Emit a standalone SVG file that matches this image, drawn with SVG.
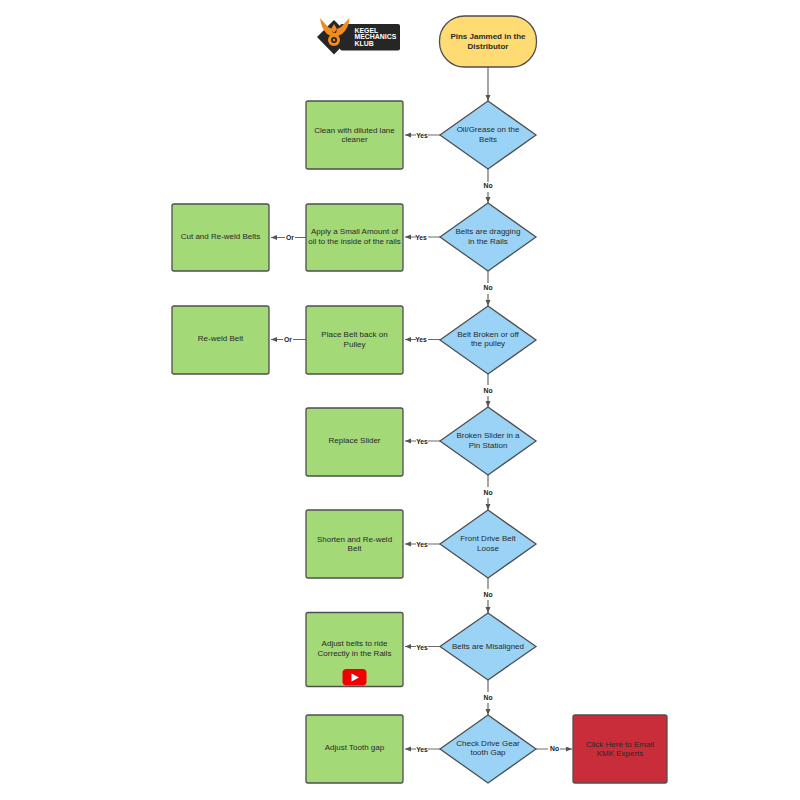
<svg xmlns="http://www.w3.org/2000/svg" width="800" height="800" viewBox="0 0 800 800">
<style>
text{font-family:"Liberation Sans",Arial,sans-serif;font-size:8px;fill:#2a2a2a;text-anchor:middle}
.n{stroke:#4f4f4f;stroke-width:1.3}
.g{fill:#a3d977}.b{fill:#9ad3f5}.r{fill:#c92d39}.y{fill:#ffdc73}
.c{fill:none;stroke:#6a6a6a;stroke-width:1.2;marker-end:url(#a)}
.l{fill:none;stroke:#6a6a6a;stroke-width:1.2}
.lb{font-size:6.800px;fill:#222;font-weight:bold}
.bd{font-weight:bold}
.lg{font-size:6.900px;font-weight:bold;fill:#fff;text-anchor:start}
</style>
<defs>
<marker id="a" markerWidth="8" markerHeight="8" refX="6" refY="2.500" orient="auto" markerUnits="userSpaceOnUse"><path d="M0 0L6 2.500L0 5Z" fill="#555"/></marker>
</defs>
<rect width="800" height="800" fill="#fff"/>
<g id="connectors">
<path class="c" d="M488 67V101"/>
<path class="c" d="M440 135H405"/>
<path class="l" d="M488 169V182"/><path class="c" d="M488 192V203"/>
<path class="c" d="M440 237H405"/>
<path class="c" d="M306 237.500H271"/>
<path class="l" d="M488 271V283"/><path class="c" d="M488 294V306"/>
<path class="c" d="M440 339.500H405"/>
<path class="c" d="M306 339.500H271"/>
<path class="l" d="M488 374V385"/><path class="c" d="M488 396V407"/>
<path class="c" d="M440 441H405"/>
<path class="l" d="M488 475V487"/><path class="c" d="M488 498V510"/>
<path class="c" d="M440 544H405"/>
<path class="l" d="M488 578V589"/><path class="c" d="M488 600V613"/>
<path class="c" d="M440 646.500H405"/>
<path class="l" d="M488 680V692"/><path class="c" d="M488 703V715"/>
<path class="c" d="M440 749H405"/>
<path class="c" d="M536 749H572"/>
<g>
<rect x="416" y="131" width="12" height="8" fill="#fff"/><text class="lb" x="422" y="137.500">Yes</text>
<rect x="416" y="233" width="12" height="8" fill="#fff"/><text class="lb" x="421" y="239.500">Yes</text>
<rect x="285" y="234" width="10" height="8" fill="#fff"/><text class="lb" x="290" y="240">Or</text>
<rect x="416" y="335" width="12" height="8" fill="#fff"/><text class="lb" x="421" y="341.500">Yes</text>
<rect x="283" y="335" width="10" height="8" fill="#fff"/><text class="lb" x="288" y="341.500">Or</text>
<rect x="416" y="437" width="12" height="8" fill="#fff"/><text class="lb" x="422" y="443.500">Yes</text>
<rect x="416" y="540" width="12" height="8" fill="#fff"/><text class="lb" x="422" y="546.500">Yes</text>
<rect x="416" y="643" width="12" height="8" fill="#fff"/><text class="lb" x="422" y="649.500">Yes</text>
<rect x="416" y="745" width="12" height="8" fill="#fff"/><text class="lb" x="422" y="751.500">Yes</text>
<rect x="548" y="745" width="12" height="8" fill="#fff"/><text class="lb" x="554.500" y="751">No</text>
<text class="lb" x="488" y="188">No</text>
<text class="lb" x="488" y="290">No</text>
<text class="lb" x="488" y="393">No</text>
<text class="lb" x="488" y="495">No</text>
<text class="lb" x="488" y="597">No</text>
<text class="lb" x="488" y="699.500">No</text>
</g>
</g>
<g id="logo">
<rect x="340" y="24" width="60" height="26.500" rx="2" fill="#262626"/>
<path d="M334 20L351 37L334 54.500L317 37Z" fill="#262626"/>
<path d="M320 18L328 27L332 29L333 33L336 33L337 29L341 27L349.500 18Q349 28 342 34L338 36L331 36L327 34Q321 28 320 18Z" fill="#f28c1e"/>
<path d="M334 24L337 29L334 33L331 29Z" fill="#f28c1e"/>
<circle cx="334" cy="40" r="6" fill="#f28c1e"/><circle cx="334" cy="40" r="3" fill="#262626"/><circle cx="334" cy="40" r="1.200" fill="#f28c1e"/>
<text class="lg" x="354.500" y="32.500">KEGEL</text>
<text class="lg" x="354.500" y="39.300">MECHANICS</text>
<text class="lg" x="354.500" y="46">KLUB</text>
</g>
<g id="start"><rect class="n y" x="439.500" y="16" width="97" height="51" rx="25" ry="25"/><text class="bd" x="488" y="39">Pins Jammed in the</text><text class="bd" x="488" y="48.500">Distributor</text></g>
<g id="d1"><polygon class="n b" points="488,101 536,135 488,169 440,135"/><text x="488" y="132">Oil/Grease on the</text><text x="488" y="141.500">Belts</text></g>
<g id="d2"><polygon class="n b" points="488,203 536,237 488,271 440,237"/><text x="488" y="234">Belts are dragging</text><text x="488" y="243.500">in the Rails</text></g>
<g id="d3"><polygon class="n b" points="488,306 536,340 488,374 440,340"/><text x="488" y="336.500">Belt Broken or off</text><text x="488" y="346">the pulley</text></g>
<g id="d4"><polygon class="n b" points="488,407 536,441 488,475 440,441"/><text x="488" y="438">Broken Slider in a</text><text x="488" y="447.500">Pin Station</text></g>
<g id="d5"><polygon class="n b" points="488,510 536,544 488,578 440,544"/><text x="488" y="541">Front Drive Belt</text><text x="488" y="550.500">Loose</text></g>
<g id="d6"><polygon class="n b" points="488,613 536,646.500 488,680 440,646.500"/><text x="488" y="649">Belts are Misaligned</text></g>
<g id="d7"><polygon class="n b" points="488,715 536,749 488,783 440,749"/><text x="488" y="745.500">Check Drive Gear</text><text x="488" y="755">tooth Gap</text></g>
<g id="r1"><rect class="n g" x="306" y="101" width="97" height="68" rx="2"/><text x="354.500" y="132.500">Clean with diluted lane</text><text x="354.500" y="142">cleaner</text></g>
<g id="r2"><rect class="n g" x="306" y="204" width="97" height="67" rx="2"/><text x="354.500" y="234">Apply a Small Amount of</text><text x="354.500" y="243.500">oil to the inside of the rails</text></g>
<g id="r2b"><rect class="n g" x="172" y="204" width="97" height="67" rx="2"/><text x="220.500" y="238.500">Cut and Re-weld Belts</text></g>
<g id="r3"><rect class="n g" x="306" y="306" width="97" height="68" rx="2"/><text x="354.500" y="337">Place Belt back on</text><text x="354.500" y="346.500">Pulley</text></g>
<g id="r3b"><rect class="n g" x="172" y="306" width="97" height="68" rx="2"/><text x="220.500" y="341">Re-weld Belt</text></g>
<g id="r4"><rect class="n g" x="306" y="408" width="97" height="68" rx="2"/><text x="354.500" y="443">Replace Slider</text></g>
<g id="r5"><rect class="n g" x="306" y="510" width="97" height="68" rx="2"/><text x="354.500" y="541.500">Shorten and Re-weld</text><text x="354.500" y="551">Belt</text></g>
<g id="r6"><rect class="n g" x="306" y="612.500" width="97" height="74" rx="2"/><text x="354.500" y="646">Adjust belts to ride</text><text x="354.500" y="655.500">Correctly in the Rails</text>
<rect x="342.500" y="669" width="24" height="16.500" rx="4" fill="#f00000"/><path d="M351.500 673.500L359 677.500L351.500 681.500Z" fill="#fff"/></g>
<g id="r7"><rect class="n g" x="306" y="715" width="97" height="68" rx="2"/><text x="354.500" y="750">Adjust Tooth gap</text></g>
<g id="r8"><rect class="n r" x="573" y="715" width="94" height="68" rx="2"/><text x="620" y="746.500">Click Here to Email</text><text x="620" y="756">KMK Experts</text></g>
</svg>
